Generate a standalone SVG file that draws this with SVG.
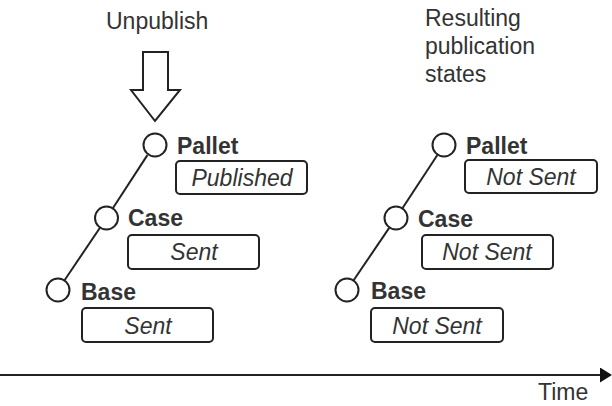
<svg xmlns="http://www.w3.org/2000/svg" width="612" height="406" viewBox="0 0 612 406">
<defs>
<style>
text{font-family:"Liberation Sans",Arial,Helvetica,sans-serif;font-size:23px;fill:#333}
.lbl{font-weight:bold}
.st{font-style:italic;text-anchor:middle}
.c{fill:#fff;stroke:#222;stroke-width:2}
.box{fill:#fff;stroke:#222;stroke-width:2}
.ln{stroke:#222;stroke-width:2;fill:none}
</style>
<marker id="ah" viewBox="0 0 12 15" markerWidth="12" markerHeight="15" refX="0" refY="7.5" markerUnits="userSpaceOnUse" orient="auto">
<path d="M0,0 L12,7.5 L0,15 Z" fill="#111"/>
</marker>
</defs>
<rect width="612" height="406" fill="#fff"/>
<text x="106" y="29">Unpublish</text>
<text x="425" y="26">Resulting</text>
<text x="425" y="54">publication</text>
<text x="425" y="82">states</text>
<text x="538" y="400" font-size="22">Time</text>
<g id="connectors">
<path class="ln" d="M143,52 H168 V90 H180 L155,121 L131,90 H143 Z" stroke-linejoin="miter"/>
<line class="ln" x1="147.4" y1="155.1" x2="113" y2="208"/>
<line class="ln" x1="99.8" y1="228" x2="64.7" y2="280"/>
<line class="ln" x1="437.4" y1="155" x2="402.6" y2="208"/>
<line class="ln" x1="389.2" y1="227.9" x2="353.8" y2="280"/>
<line class="ln" x1="0" y1="375" x2="600" y2="375" marker-end="url(#ah)"/>
</g>
<g id="pallet-left">
<circle class="c" cx="155" cy="145" r="11.5"/>
<text class="lbl" x="177" y="154">Pallet</text>
<rect class="box" x="176" y="161" width="131" height="33" rx="4"/>
<text class="st" x="242" y="186">Published</text>
</g>
<g id="case-left">
<circle class="c" cx="106.5" cy="218" r="11.5"/>
<text class="lbl" x="128" y="226">Case</text>
<rect class="box" x="128" y="235" width="131" height="34" rx="4"/>
<text class="st" x="194" y="260">Sent</text>
</g>
<g id="base-left">
<circle class="c" cx="58" cy="290" r="11.5"/>
<text class="lbl" x="81" y="300">Base</text>
<rect class="box" x="82" y="308" width="131" height="34" rx="4"/>
<text class="st" x="148" y="334">Sent</text>
</g>
<g id="pallet-right">
<circle class="c" cx="444" cy="145" r="11.5"/>
<text class="lbl" x="466" y="154">Pallet</text>
<rect class="box" x="465" y="160" width="132" height="33" rx="4"/>
<text class="st" x="531" y="185">Not Sent</text>
</g>
<g id="case-right">
<circle class="c" cx="396" cy="218" r="11.5"/>
<text class="lbl" x="418" y="227">Case</text>
<rect class="box" x="422" y="235" width="131" height="34" rx="4"/>
<text class="st" x="487" y="260">Not Sent</text>
</g>
<g id="base-right">
<circle class="c" cx="347" cy="290" r="11.5"/>
<text class="lbl" x="371" y="299">Base</text>
<rect class="box" x="371" y="308" width="132" height="34" rx="4"/>
<text class="st" x="437" y="334">Not Sent</text>
</g>
</svg>
